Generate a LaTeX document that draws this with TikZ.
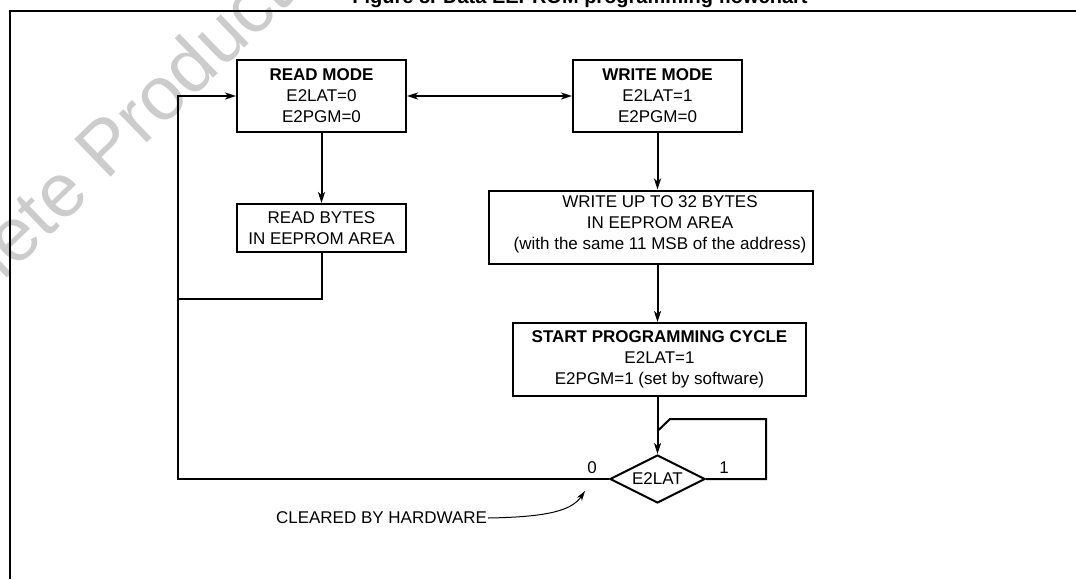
\documentclass[tikz,border=0pt]{standalone}
\usepackage{fontspec}
\setmainfont{Liberation Sans}
\usetikzlibrary{shapes.geometric,arrows.meta}
\begin{document}
\begin{tikzpicture}[x=1pt,y=-1pt,
  line width=2pt,
  >={Stealth[length=11pt,width=7pt,inset=3pt]},
  box/.style={draw, line width=2pt, inner sep=0pt, align=center, font=\fontsize{17}{21}\selectfont},
  txt/.style={align=center, font=\fontsize{17}{21}\selectfont, inner sep=0pt},
  lbl/.style={font=\fontsize{17}{21}\selectfont, inner sep=0pt},
  thinarrow/.style={line width=1pt, -{Stealth[length=10pt,width=6pt,inset=3pt]}},
]
\useasboundingbox (0,0) rectangle (1076,579);
\begin{scope}
\clip (0,0) rectangle (1076,579);
\node[rotate=44, text=black!20, font=\fontsize{76}{76}\selectfont, anchor=base west, inner sep=0pt] (wmk) at (-128,408) {Obsolete Product(s)};
\node[font=\bfseries\fontsize{20}{20}\selectfont, anchor=base, inner sep=0pt] (title) at (580,3) {Figure 8. Data EEPROM programming flowchart};
\end{scope}
% frame
\draw (10,579) -- (10,11) -- (1076,11);
% boxes
\node[box, minimum width=169pt, minimum height=72pt] (rm) at (321.5,96) {\textbf{READ MODE}\\E2LAT=0\\E2PGM=0};
\node[box, minimum width=169pt, minimum height=72pt] (wm) at (657.5,96) {\textbf{WRITE MODE}\\E2LAT=1\\E2PGM=0};
\node[box, minimum width=169pt, minimum height=48pt] (rb) at (321.5,228) {READ BYTES\\IN EEPROM AREA};
\node[box, minimum width=324pt, minimum height=73pt] (wu) at (651,227) {};
\node[txt] (wut) at (660,224) {WRITE UP TO 32 BYTES\\IN EEPROM AREA\\(with the same 11 MSB of the address)};
\node[box, minimum width=293pt, minimum height=73pt] (sp) at (659.5,359.5) {\textbf{START PROGRAMMING CYCLE}\\E2LAT=1\\E2PGM=1 (set by software)};
\node[draw, diamond, aspect=2, inner sep=0pt, minimum width=95pt, minimum height=48pt, line width=2pt, font=\fontsize{17}{21}\selectfont] (dl) at (657.5,479) {E2LAT};
\node[lbl] (l0) at (592,468) {0};
\node[lbl] (l1) at (724,468) {1};
\node[lbl, anchor=east] (cl) at (488,518) {CLEARED BY HARDWARE};
% coordinates
\coordinate (jl) at (178,299);
\coordinate (lr) at (766,419);
\coordinate (lk) at (670,419);
\coordinate (lj) at (657.5,431);
\coordinate (ct) at (585,491);
% connectors
\draw[<->] (rm.east) -- (wm.west);
\draw[->] (rm.south) -- (rb.north);
\draw[->] (wm.south) -- (wm.south |- wu.north);
\draw[->] (wm.south |- wu.south) -- (wm.south |- sp.north);
\draw[->] (wm.south |- sp.south) -- (dl.north);
\draw[->] (rb.south) |- (jl) -- (jl |- rm.west) -- (rm.west);
\draw (dl.west) -| (jl);
\draw (dl.east) -| (lr) -- (lk) -- (lj);
\draw[thinarrow] (cl.east) .. controls (550,517) and (572,510) .. (ct);
\end{tikzpicture}
\end{document}
